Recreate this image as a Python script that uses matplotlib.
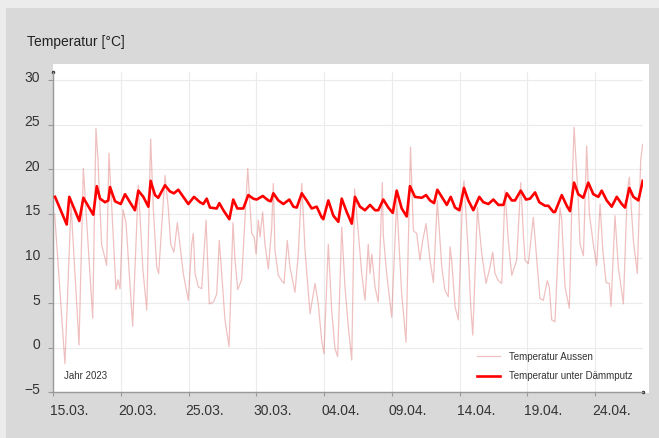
import matplotlib
matplotlib.use("Agg")
import matplotlib.pyplot as plt
from matplotlib.patches import Rectangle
from matplotlib.transforms import ScaledTranslation

plt.rcParams['font.family'] = ['Liberation Sans', 'DejaVu Sans']

# ---- data (days since 15.03.2023 00:00) ----
aussen_day = [0.10, 0.86, 1.31, 1.90, 2.22, 2.91, 3.15, 3.30, 3.57, 3.74, 3.94, 4.11, 4.63, 4.78, 4.93,
              5.15, 5.37, 5.86, 6.28, 6.62, 6.90, 7.19, 7.39, 7.64, 7.78, 8.25, 8.49, 8.67, 8.91, 9.16,
              9.60, 9.97, 10.22, 10.34, 10.47, 10.71, 10.96, 11.28, 11.52, 11.82, 12.07, 12.26, 12.68,
              12.98, 13.27, 13.42, 13.62, 13.91, 14.36, 14.65, 14.84, 14.97, 15.14, 15.27, 15.46, 15.63,
              15.88, 16.13, 16.25, 16.37, 16.62, 16.87, 17.04, 17.28, 17.48, 17.85, 18.09, 18.35, 18.59,
              18.96, 19.33, 19.57, 19.82, 19.99, 20.31, 20.56, 20.80, 21.00, 21.30, 21.54, 21.79, 22.04,
              22.25, 22.53, 22.78, 23.02, 23.26, 23.39, 23.52, 23.76, 24.00, 24.30, 24.37, 24.62, 24.99,
              25.36, 25.73, 26.05, 26.38, 26.59, 26.84, 27.08, 27.28, 27.53, 27.82, 28.07, 28.36, 28.69,
              28.93, 29.17, 29.30, 29.42, 29.67, 29.91, 30.24, 30.33, 30.65, 30.83, 30.98, 31.32, 31.64,
              31.96, 32.25, 32.45, 32.62, 32.87, 33.12, 33.36, 33.60, 33.86, 34.22, 34.52, 34.71, 34.84,
              35.08, 35.45, 35.75, 35.94, 36.19, 36.48, 36.63, 36.81, 37.05, 37.42, 37.55, 37.79, 38.11,
              38.36, 38.46, 38.77, 38.90, 39.15, 39.39, 39.59, 39.88, 40.13, 40.38, 40.58, 40.82, 41.06,
              41.19, 41.48, 41.73, 42.10, 42.39, 42.54, 42.84, 43.13, 43.38, 43.53]
aussen_temp = [15.0, -1.8, 16.0, 0.3, 20.1, 3.3, 24.6, 21.0, 11.5, 10.5, 9.2, 21.8, 6.5, 7.6, 6.6,
               15.5, 14.0, 2.4, 18.2, 8.7, 4.2, 23.4, 15.4, 9.0, 8.3, 19.3, 15.7, 11.6, 10.7, 14.0,
               8.3, 5.3, 11.6, 12.8, 8.3, 6.8, 6.6, 14.3, 4.9, 5.1, 6.0, 12.0, 3.1,
               0.1, 14.0, 9.8, 6.5, 7.6, 20.1, 12.8, 12.4, 10.5, 14.3, 12.4, 15.2, 11.6,
               8.8, 13.5, 18.4, 10.9, 8.1, 7.5, 7.2, 12.0, 9.0, 6.2, 10.5, 18.4, 10.9,
               3.8, 7.2, 4.9, 0.8, -0.7, 11.6, 4.2, -0.1, -1.0, 13.5, 6.8, 2.3, -1.4,
               17.8, 12.8, 8.3, 5.3, 11.6, 8.3, 10.5, 6.8, 5.1, 18.5, 12.6, 8.3, 3.4,
               16.5, 6.0, 0.6, 22.5, 13.1, 12.8, 9.8, 12.0, 13.9, 9.8, 7.3, 16.5, 9.0,
               6.4, 5.7, 11.3, 9.8, 4.6, 3.1, 17.6, 18.7, 10.5, 4.6, 1.4, 15.7, 10.5,
               7.2, 9.0, 10.7, 8.3, 7.5, 7.2, 17.6, 12.0, 8.1, 9.8, 18.5, 12.8, 9.8,
               9.4, 14.6, 9.0, 5.5, 5.3, 7.5, 6.8, 3.1, 2.9, 15.7, 14.3, 6.8, 4.4,
               20.2, 24.7, 16.5, 11.6, 10.3, 22.6, 15.0, 11.6, 9.2, 16.1, 10.9, 7.3, 7.2,
               4.6, 14.8, 9.0, 4.9, 17.6, 19.1, 12.0, 8.3, 21.0, 22.8]

putz_day = [0.13, 0.99, 1.18, 1.92, 2.22, 2.95, 3.21, 3.45, 3.82, 4.06, 4.19, 4.56, 4.98, 5.30, 5.66,
            6.03, 6.28, 6.65, 7.02, 7.19, 7.51, 7.75, 8.25, 8.62, 8.91, 9.23, 9.60, 9.97, 10.39, 10.83,
            11.08, 11.33, 11.57, 12.07, 12.26, 12.56, 13.00, 13.29, 13.59, 14.03, 14.40, 14.77, 15.02,
            15.47, 15.88, 16.06, 16.25, 16.62, 16.99, 17.43, 17.73, 17.98, 18.35, 18.71, 19.08, 19.45,
            19.82, 19.94, 20.31, 20.68, 21.05, 21.30, 21.67, 22.04, 22.28, 22.65, 23.02, 23.39, 23.76,
            24.00, 24.37, 24.74, 25.07, 25.36, 25.73, 26.10, 26.34, 26.71, 27.21, 27.53, 27.82, 28.12,
            28.36, 28.69, 29.06, 29.35, 29.67, 29.99, 30.33, 30.65, 31.02, 31.46, 31.76, 32.13, 32.50,
            32.87, 33.24, 33.49, 33.86, 34.10, 34.52, 34.91, 35.21, 35.58, 35.89, 36.32, 36.56, 36.93,
            37.05, 37.55, 37.92, 38.16, 38.46, 38.77, 39.14, 39.51, 39.88, 40.25, 40.50, 40.87, 41.24,
            41.61, 41.98, 42.22, 42.54, 42.84, 43.21, 43.53]
putz_temp = [16.9, 13.8, 16.9, 14.2, 16.8, 14.9, 18.1, 16.7, 16.3, 16.5, 18.0, 16.4, 16.1, 17.2, 16.3,
             15.4, 17.6, 16.9, 15.8, 18.7, 17.1, 16.8, 18.2, 17.5, 17.3, 17.7, 16.9, 16.1, 16.9, 16.3,
             16.1, 16.7, 15.7, 15.6, 16.2, 15.4, 14.4, 16.6, 15.6, 15.6, 17.1, 16.7, 16.6,
             17.0, 16.5, 16.4, 17.3, 16.5, 16.1, 16.6, 15.8, 15.7, 17.3, 16.5, 15.6, 15.8,
             14.6, 14.4, 16.5, 14.8, 14.1, 16.7, 15.2, 13.9, 16.9, 15.8, 15.4, 16.0, 15.4,
             15.4, 16.6, 15.7, 15.1, 17.6, 15.6, 14.7, 18.1, 16.9, 16.8, 17.1, 16.5, 16.2,
             17.7, 16.9, 16.0, 16.9, 15.7, 15.4, 17.9, 16.5, 15.4, 16.9, 16.3, 16.1, 16.6,
             16.0, 16.0, 17.3, 16.5, 16.5, 17.6, 16.6, 16.7, 17.4, 16.3, 15.9, 15.9, 15.2,
             15.2, 17.1, 15.9, 15.3, 18.5, 17.2, 16.8, 18.5, 17.2, 16.9, 17.6, 16.5, 15.8,
             16.9, 16.1, 15.7, 17.9, 16.9, 16.5, 18.7]

x_ticks = [0, 5, 10, 15, 20, 25, 30, 35, 40]
x_labels = ["15.03.", "20.03.", "25.03.", "30.03.", "04.04.", "09.04.", "14.04.", "19.04.", "24.04."]
y_ticks = [-5, 0, 5, 10, 15, 20, 25, 30]
series_labels = ["Temperatur Aussen", "Temperatur unter Dämmputz"]

# ---- figure ----
W, H = 659, 438
fig = plt.figure(figsize=(W / 100, H / 100), dpi=100, facecolor="#ececec")

fig.patches.append(Rectangle((6 / W, 0), (W - 6) / W, (H - 8) / H, transform=fig.transFigure,
                             facecolor="#d9d9d9", edgecolor="none", zorder=-2))
fig.patches.append(Rectangle((53.3 / W, (H - 392.5) / H), (649 - 53.3) / W, (392.5 - 64) / H,
                             transform=fig.transFigure, facecolor="white", edgecolor="none", zorder=-1))

ax = fig.add_axes([53.3 / W, (H - 392.2) / H, (643 - 53.3) / W, (392.2 - 72) / H])
ax.set_facecolor("white")
ax.set_xlim(0, 43.55)
ax.set_ylim(-5, 30.9)

ax.plot(aussen_day, aussen_temp, color="#d23c3c", alpha=0.32, lw=0.9, label=series_labels[0], zorder=2)
ax.plot(putz_day, putz_temp, color="#ff0000", lw=1.9, label=series_labels[1], zorder=3,
        solid_joinstyle="round")

ax.set_xticks(x_ticks)
ax.set_xticklabels(x_labels)
ax.set_yticks(y_ticks)
ax.grid(True, color="#ebebeb", lw=0.8, zorder=0)
ax.set_axisbelow(True)

for s in ["top", "right"]:
    ax.spines[s].set_visible(False)
for s in ["left", "bottom"]:
    ax.spines[s].set_color("#999999")
    ax.spines[s].set_linewidth(1.0)

ax.tick_params(axis="y", length=3.6, width=0.8, color="#999999", pad=6, labelsize=10, labelcolor="#333333")
ax.tick_params(axis="x", length=3.2, width=0.8, color="#999999", pad=5, labelsize=10, labelcolor="#333333")
xoff = ScaledTranslation(-3 / 100, 0, fig.dpi_scale_trans)
for lab in ax.get_xticklabels():
    lab.set_horizontalalignment("left")
    lab.set_transform(lab.get_transform() + xoff)
yoff = ScaledTranslation(0, 4 / 100, fig.dpi_scale_trans)
for lab in ax.get_yticklabels():
    lab.set_transform(lab.get_transform() + yoff)

# small axis end markers
ax.plot([0], [1], marker="o", ms=1.5, color="#333333", transform=ax.transAxes, clip_on=False)
ax.plot([1], [0], marker="o", ms=1.5, color="#333333", transform=ax.transAxes, clip_on=False)

leg = ax.legend(loc="lower right", bbox_to_anchor=(0.99, 0.02), frameon=False, fontsize=7,
                handlelength=2.4, handletextpad=0.9, labelspacing=0.95, borderpad=0)
for t in leg.get_texts():
    t.set_color("#333333")

ax.text(11 / (643 - 53.3), (392.2 - 376) / (392.2 - 72), "Jahr 2023", transform=ax.transAxes,
        fontsize=7, color="#333333", va="center", ha="left")

fig.text(27 / W, 1 - 42 / H, "Temperatur [°C]", fontsize=10, color="#222222", va="center", ha="left")

fig.savefig("out.png", dpi=100, facecolor=fig.get_facecolor())
